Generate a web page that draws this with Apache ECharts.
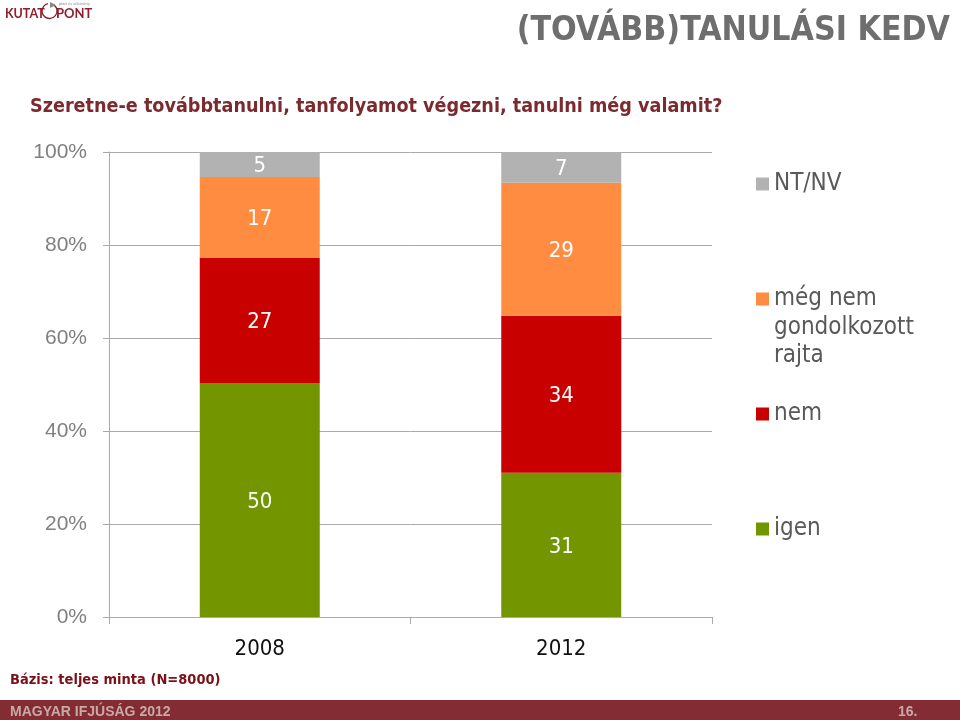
<!DOCTYPE html>
<html>
<head>
<meta charset="utf-8">
<style>html,body{margin:0;background:#fff}#main{width:960px;height:720px}</style>
<script src="https://cdn.jsdelivr.net/npm/echarts@6/dist/echarts.min.js"></script>
</head>
<body>
<div id="main"></div>
<script>
var years = ['2008', '2012'];
var igen = [50.3, 31.0];
var nem = [26.9, 33.8];
var meg = [17.4, 28.6];
var ntnv = [5.4, 6.6];
var yTicks = [0, 20, 40, 60, 80, 100];

var font = '"DejaVu Sans Condensed", "DejaVu Sans", sans-serif';
var axisFont = '"Liberation Sans", sans-serif';
var logoFont = 'Lato, sans-serif';

// labels show whole numbers, the bar heights keep the decimals
function makeSeries(name, values, color) {
  return {
    name: name,
    type: 'bar',
    stack: 'all',
    barWidth: 120,
    itemStyle: { color: color },
    data: values,
    label: {
      show: true,
      position: 'inside',
      offset: [0, 2],
      fontFamily: font,
      fontSize: 22,
      color: '#fff',
      formatter: function (p) { return Math.round(p.value); }
    }
  };
}

function legendAt(name, top, text) {
  return {
    data: [name],
    left: 756,
    top: top,
    orient: 'vertical',
    itemWidth: 13,
    itemHeight: 13,
    itemGap: 0,
    padding: 0,
    selectedMode: false,
    icon: 'rect',
    formatter: function () { return text; },
    textStyle: { fontFamily: font, fontSize: 24, color: '#595959' }
  };
}

var chart = echarts.init(document.getElementById('main'));
chart.setOption({
  animation: false,
  backgroundColor: '#fff',
  title: [
    { text: '(TOVÁBB)TANULÁSI KEDV', right: 10, top: 14, padding: 0,
      textStyle: { fontFamily: font, fontSize: 33.6, fontWeight: 'bold', color: '#6e6e6e' } },
    { text: 'Szeretne-e továbbtanulni, tanfolyamot végezni, tanulni még valamit?', left: 30, top: 97, padding: 0,
      textStyle: { fontFamily: font, fontSize: 19.6, fontWeight: 'bold', color: '#7b2a30' } },
    { text: 'Bázis: teljes minta (N=8000)', left: 10, top: 673, padding: 0,
      textStyle: { fontFamily: font, fontSize: 14.5, fontWeight: 'bold', color: '#7a1018' } }
  ],
  grid: { left: 109, right: 248, top: 152, bottom: 103 },
  legend: [
    legendAt('NT/NV', 172, 'NT/NV'),
    legendAt('még nem gondolkozott rajta', 287, 'még nem'),
    legendAt('nem', 402, 'nem'),
    legendAt('igen', 517, 'igen')
  ],
  xAxis: {
    type: 'category',
    data: years,
    axisLine: { lineStyle: { color: '#aaa', width: 1 } },
    axisTick: { show: true, length: 7, alignWithLabel: false, lineStyle: { color: '#aaa' } },
    axisLabel: { fontFamily: font, fontSize: 22, color: '#111', margin: 21 }
  },
  yAxis: {
    type: 'value',
    min: 0,
    max: 100,
    interval: yTicks[1] - yTicks[0],
    axisLine: { show: true, lineStyle: { color: '#aaa' } },
    axisTick: { show: true, length: 6, lineStyle: { color: '#aaa' } },
    splitLine: { lineStyle: { color: '#aaa', width: 1 } },
    axisLabel: { fontFamily: axisFont, fontSize: 21, color: '#808080', margin: 22, padding: [4, 0, 0, 0], formatter: '{value}%' }
  },
  series: [
    makeSeries('igen', igen, '#739600'),
    makeSeries('nem', nem, '#c80000'),
    makeSeries('még nem gondolkozott rajta', meg, '#ff8c40'),
    makeSeries('NT/NV', ntnv, '#b2b2b2')
  ],
  graphic: [
    // rest of the legend label, the marker stays on its first line
    { type: 'text', left: 774, top: 314, style: { text: 'gondolkozott\nrajta', fontFamily: font, fontSize: 24, lineHeight: 28, fill: '#595959' } },
    // footer band
    { type: 'rect', left: 0, top: 700, shape: { width: 960, height: 20 }, style: { fill: '#832c33' } },
    { type: 'text', left: 10, top: 705, style: { text: 'MAGYAR IFJÚSÁG 2012', fontFamily: 'Liberation Sans', fontSize: 14, fontWeight: 'bold', fill: '#c9a9a6' } },
    { type: 'text', left: 898, top: 705, style: { text: '16.', fontFamily: 'Liberation Sans', fontSize: 14, fontWeight: 'bold', fill: '#c9a9a6' } },
    // logo
    { type: 'text', left: 5, top: 7, style: { text: 'KUTAT', fontFamily: logoFont, fontSize: 12.5, fontWeight: 'bold', fill: '#8f1f2a' } },
    { type: 'arc', shape: { cx: 49.5, cy: 11, r: 7.5, startAngle: -0.9, endAngle: 4.5 }, style: { stroke: '#8f1f2a', lineWidth: 1.3, fill: 'none' } },
    { type: 'polygon', shape: { points: [[50, 2], [56, 5], [50, 8]] }, style: { fill: '#888' } },
    { type: 'text', left: 56, top: 7, style: { text: 'PONT', fontFamily: logoFont, fontSize: 13, fontWeight: 'bold', fill: '#8f1f2a' } },
    { type: 'text', left: 59, top: 2, style: { text: 'piaci és vélemény', fontFamily: logoFont, fontSize: 4, fill: '#888' } }
  ]
});
</script>
</body>
</html>
